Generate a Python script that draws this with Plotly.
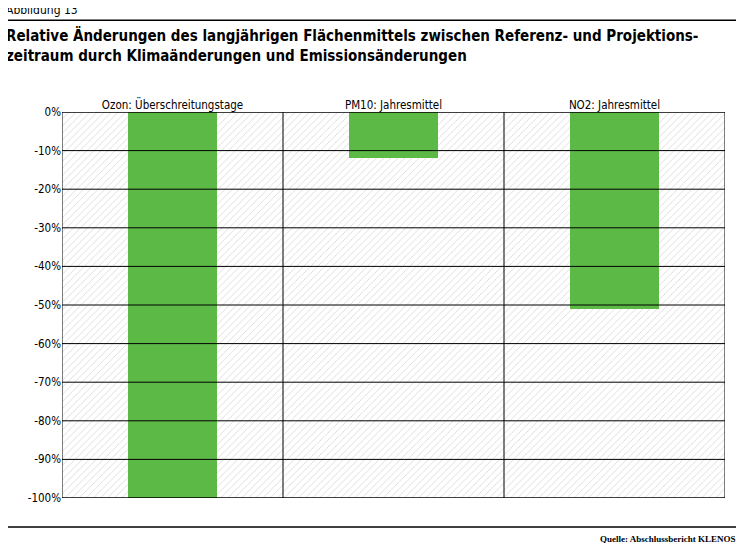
import plotly.graph_objects as go

categories = ["Ozon: Überschreitungstage", "PM10: Jahresmittel", "NO2: Jahresmittel"]
values = [-100, -12, -51]
tick_vals = list(range(0, -101, -10))
tick_text = [f"{v}%" for v in tick_vals]

fig = go.Figure()
fig.add_trace(go.Bar(x=categories, y=[-100]*3, width=1,
    marker=dict(color="white", line=dict(width=0),
                pattern=dict(shape="/", fgcolor="#a8a8a8", bgcolor="white", size=5, solidity=0.15)),
    hoverinfo="skip", showlegend=False))
fig.add_trace(go.Bar(x=categories, y=values, width=0.4,
    marker=dict(color="#5cb946", line=dict(width=0)), showlegend=False))

for xv in [0.5, 1.5]:
    fig.add_shape(type="line", xref="x", yref="y", x0=xv, x1=xv, y0=-100, y1=0,
                  line=dict(color="black", width=1), layer="above")
fig.add_shape(type="rect", xref="x", yref="y", x0=-0.5, x1=2.5, y0=-100, y1=0,
              line=dict(color="black", width=1), layer="above")
for yv in tick_vals:
    fig.add_shape(type="line", xref="x", yref="y", x0=-0.5, x1=2.5, y0=yv, y1=yv,
                  line=dict(color="black", width=1), layer="above")

fig.add_shape(type="line", xref="paper", yref="paper", x0=-0.086, x1=1.0256, y0=1.238, y1=1.238,
              line=dict(color="black", width=1.5))
fig.add_shape(type="line", xref="paper", yref="paper", x0=-0.086, x1=1.0256, y0=-0.075, y1=-0.075,
              line=dict(color="black", width=1.5))
fig.add_annotation(xref="paper", yref="paper", x=-0.088, y=1.241, xanchor="left", yanchor="bottom",
                   text="Abbildung 13", showarrow=False, font=dict(size=12, color="black"))
fig.add_annotation(xref="paper", yref="paper", x=-0.088, y=1.228, xanchor="left", yanchor="top", align="left",
                   text="<b>Relative Änderungen des langjährigen Flächenmittels zwischen Referenz- und Projektions-<br>zeitraum durch Klimaänderungen und Emissionsänderungen</b>",
                   showarrow=False, font=dict(size=15, color="black"))
fig.add_annotation(xref="paper", yref="paper", x=1.019, y=-0.088, xanchor="right", yanchor="top",
                   text="<b>Quelle: Abschlussbericht KLENOS</b>", showarrow=False,
                   font=dict(size=9, color="black", family="Liberation Serif"))

fig.update_layout(
    width=730, height=535, barmode="overlay", bargap=0,
    paper_bgcolor="white", plot_bgcolor="white",
    margin=dict(l=54, r=13, t=104, b=45),
    font=dict(family="DejaVu Sans Condensed, Liberation Sans Narrow, sans-serif", size=11.5, color="black"),
    xaxis=dict(side="top", showline=False, ticks="", showgrid=False, range=[-0.5, 2.5]),
    yaxis=dict(range=[-100, 0], tickvals=tick_vals, ticktext=tick_text, showgrid=False,
               zeroline=False, ticks="", showline=False),
)
fig.write_html("out.html")
